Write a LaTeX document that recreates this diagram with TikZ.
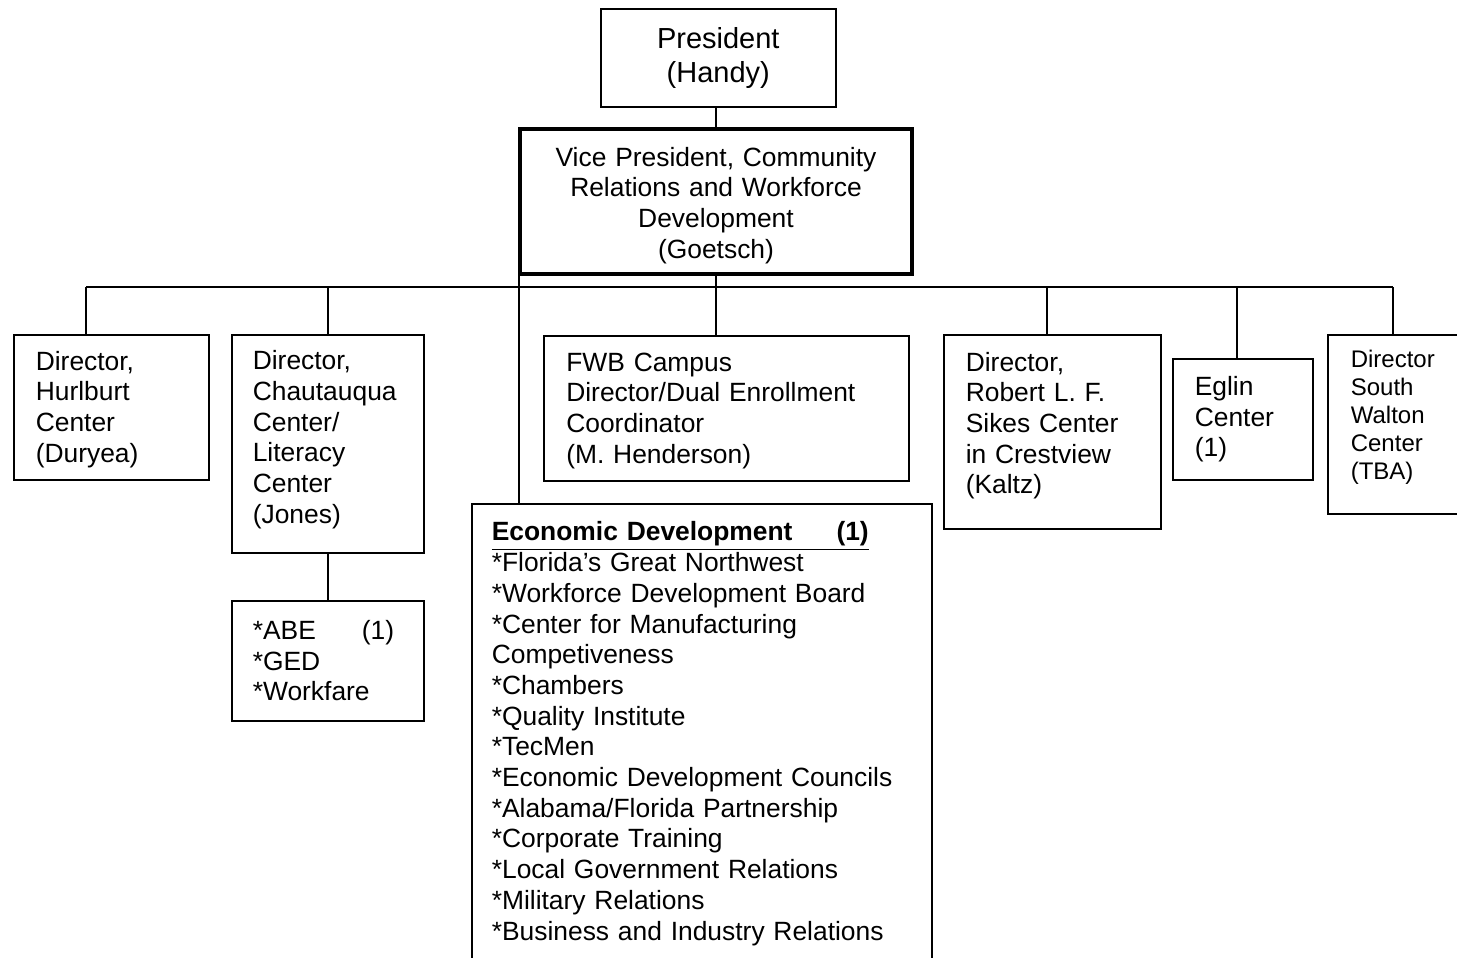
\documentclass[tikz,border=0pt]{standalone}
\usepackage{fontspec}
\setmainfont{Liberation Sans}
\begin{document}
\begin{tikzpicture}[x=0.5pt,y=-0.5pt,
  bx/.style={draw, line width=0.8pt, anchor=north west, align=left, inner ysep=0pt,
    font=\fontsize{13.2}{15.35}\selectfont},
  conn/.style={draw, line width=0.8pt}]
\useasboundingbox (0,0) rectangle (1457,958);
\clip (0,0) rectangle (1457,958);

\node[bx, align=center, minimum width=117.5pt, minimum height=49pt, inner xsep=2pt,
  font=\fontsize{14.5}{17}\selectfont] (pres) at (600,8) {President\\(Handy)};
\node[bx, align=center, line width=2pt, minimum width=196pt, minimum height=72.5pt, inner xsep=3pt,
  text width=190pt, text height=13.5pt]
  (vp) at (518,127) {Vice President, Community\\Relations and Workforce\\Development\\(Goetsch)};

\node[bx, minimum width=97.5pt, minimum height=72.5pt, inner xsep=11pt, text width=75.5pt,
  text height=11.5pt]
  (hur) at (13,334) {Director,\\Hurlburt\\Center\\(Duryea)};
\node[bx, minimum width=96pt, minimum height=109pt, inner xsep=10.5pt, text width=75pt,
  text height=5.5pt]
  (cha) at (231,334) {Director,\\Chautauqua\\Center/\\Literacy\\Center\\(Jones)};
\node[bx, minimum width=96pt, minimum height=60pt, inner xsep=10.5pt, text width=75pt]
  (abe) at (231,600) {\makebox[54.5pt][l]{*ABE}(1)\\{}*GED\\{}*Workfare};
\node[bx, minimum width=182.5pt, minimum height=72.5pt, inner xsep=11pt, text width=160pt,
  text height=11.5pt]
  (fwb) at (543,335) {FWB Campus\\Director/Dual Enrollment\\Coordinator\\(M. Henderson)};
\node[bx, minimum width=230pt, inner xsep=10pt, inner ysep=9pt, text width=210pt]
  (ed) at (471,503) {\underline{\textbf{Economic Development\hspace{22pt}(1)}}\\
  {}*Florida's Great Northwest\\{}*Workforce Development Board\\{}*Center for Manufacturing\\
  Competiveness\\{}*Chambers\\{}*Quality Institute\\{}*TecMen\\{}*Economic Development Councils\\
  {}*Alabama/Florida Partnership\\{}*Corporate Training\\{}*Local Government Relations\\
  {}*Military Relations\\{}*Business and Industry Relations\\ \strut};
\node[bx, minimum width=108.5pt, minimum height=97pt, inner xsep=11pt, text width=86.5pt,
  text height=3.5pt]
  (sik) at (943,334) {Director,\\Robert L. F.\\Sikes Center\\in Crestview\\(Kaltz)};
\node[bx, minimum width=70pt, minimum height=60.5pt, inner xsep=11pt, text width=48pt]
  (egl) at (1172,358) {Eglin\\Center\\(1)};
\node[bx, minimum width=80pt, minimum height=89.5pt, inner xsep=11.5pt, text width=57pt,
  font=\fontsize{12}{14}\selectfont, text height=1.6pt]
  (swa) at (1327,334) {Director\\South\\Walton\\Center\\(TBA)};

\coordinate (bh) at (86,287);
\coordinate (be) at (519,287);
\coordinate (bs) at (1047,287);
\coordinate (bg) at (1237,287);
\coordinate (bw) at (1393,287);

\draw[conn] (vp.north |- pres.south) -- (vp.north);
\draw[conn] (bh) -- (bw);
\draw[conn] (vp.south) -- (vp.south |- fwb.north);
\draw[conn] (bh) -- (bh |- hur.north);
\draw[conn] (cha.north |- bh) -- (cha.north);
\draw[conn] (cha.south) -- (abe.north);
\draw[conn] (be |- vp.south) -- (be |- ed.north);
\draw[conn] (bs) -- (bs |- sik.north);
\draw[conn] (bg) -- (bg |- egl.north);
\draw[conn] (bw) -- (bw |- swa.north);
\end{tikzpicture}
\end{document}
